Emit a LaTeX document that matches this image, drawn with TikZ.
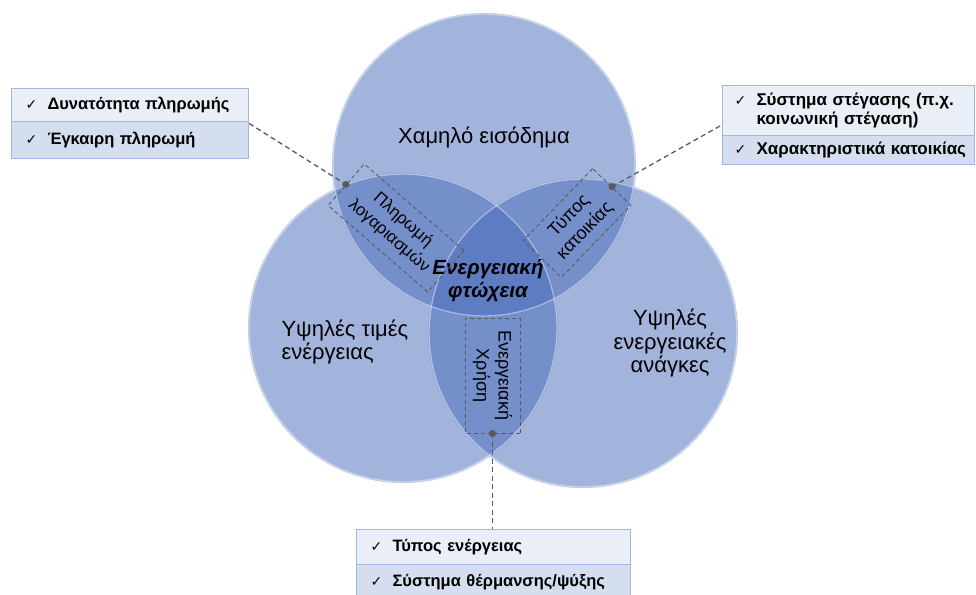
\documentclass[tikz,border=0pt]{standalone}
\usepackage{fontspec}
\setmainfont{Liberation Sans}
\newfontfamily\symfont{DejaVu Sans}
\usetikzlibrary{fit}

\definecolor{vennblue}{RGB}{72,106,186}
\definecolor{rowA}{RGB}{233,238,247}
\definecolor{rowB}{RGB}{213,222,239}
\definecolor{rowline}{RGB}{160,184,226}
\definecolor{dashgray}{RGB}{90,90,90}

\newcommand{\chk}{\makebox[22pt][l]{{\symfont\fontsize{14}{14}\selectfont ✓}}}

\tikzset{
  venn/.style={fill=vennblue, fill opacity=0.5},
  rim/.style={draw=white, draw opacity=0.45, line width=1.4pt},
  rotbox/.style={draw=dashgray, dashed, dash pattern=on 4pt off 3pt, line width=0.9pt,
    align=center, inner sep=0pt, font=\fontsize{18}{22}\selectfont},
  conn/.style={draw=dashgray, dash pattern=on 5pt off 3.5pt, line width=1.3pt},
  dotc/.style={fill=dashgray},
  rowbox/.style={draw=rowline, line width=1pt, anchor=north west, align=left,
    inner xsep=14pt, inner ysep=0pt, font=\bfseries\fontsize{16.5}{19}\selectfont},
  circlabel/.style={font=\fontsize{22}{23.5}\selectfont},
}

\begin{document}
\begin{tikzpicture}[x=1pt,y=-1pt]
\useasboundingbox (0,0) rectangle (976,594);

% three overlapping circles
\fill[venn] (484,165) circle[radius=152pt];
\fill[venn] (403,328) circle[radius=155pt];
\fill[venn] (583,333) circle[radius=155pt];
\draw[rim] (484,165) circle[radius=151pt];
\draw[rim] (403,328) circle[radius=154pt];
\draw[rim] (583,333) circle[radius=154pt];

% circle labels
\node[circlabel] (low) at (484,137) {Χαμηλό εισόδημα};
\node[circlabel, align=left, anchor=west] (price) at (278,342) {Υψηλές τιμές\\ενέργειας};
\node[circlabel, align=center] (needs) at (670,343) {Υψηλές\\ενεργειακές\\ανάγκες};
\node[font=\bfseries\itshape\fontsize{20.5}{23}\selectfont, align=center] (poverty) at (488,281) {Ενεργειακή\\φτώχεια};

% dashed pairwise factors
\node[rotbox, rotate=-41, minimum width=132pt, minimum height=55pt,
  font=\fontsize{17}{21}\selectfont] (pay) at (396,228) {Πληρωμή\\λογαριασμών};
\node[rotbox, rotate=46, minimum width=100pt, minimum height=53pt] (hse) at (577,223) {Τύπος\\κατοικίας};
\node[rotbox, rotate=-90, minimum width=115pt, minimum height=55pt] (use) at (492.5,375.5) {Ενεργειακή\\Χρήση};

% left list
\node[rowbox, fill=rowA, minimum width=237pt, minimum height=33pt, text width=209pt] (l1) at (11,88) {\chk Δυνατότητα πληρωμής};
\node[rowbox, fill=rowB, minimum width=237pt, minimum height=37pt, text width=209pt] (l2) at (11,121) {\chk Έγκαιρη πληρωμή};
\node[fit=(l1)(l2), inner sep=0pt] (lbox) {};

% right list
\node[rowbox, fill=rowA, minimum width=252pt, minimum height=50pt, text width=228pt, inner xsep=12pt,
  font=\bfseries\fontsize{17}{19.5}\selectfont] (r1) at (722,85) {\chk Σύστημα στέγασης (π.χ.\\\hspace*{22pt}κοινωνική στέγαση)};
\node[rowbox, fill=rowB, minimum width=252pt, minimum height=29pt, text width=228pt, inner xsep=12pt,
  font=\bfseries\fontsize{17}{19.5}\selectfont] (r2) at (722,135) {\mbox{\chk Χαρακτηριστικά κατοικίας}};
\node[fit=(r1)(r2), inner sep=0pt] (rbox) {};

% bottom list
\node[rowbox, fill=rowA, minimum width=274pt, minimum height=35pt, text width=246pt] (b1) at (356,529) {\chk Τύπος ενέργειας};
\node[rowbox, fill=rowB, minimum width=274pt, minimum height=36pt, text width=246pt] (b2) at (356,564) {\chk Σύστημα θέρμανσης/ψύξης};
\node[fit=(b1)(b2), inner sep=0pt] (bbox) {};

% connectors
\draw[conn] (lbox.east) -- (pay.west);
\draw[conn] (hse.east) -- (rbox.west);
\draw[conn] (use.east) -- (use.east |- bbox.north);
\fill[dotc] (pay.west) circle[radius=3.5pt];
\fill[dotc] (hse.east) circle[radius=3.5pt];
\fill[dotc] (use.east) circle[radius=3.5pt];
\end{tikzpicture}
\end{document}
